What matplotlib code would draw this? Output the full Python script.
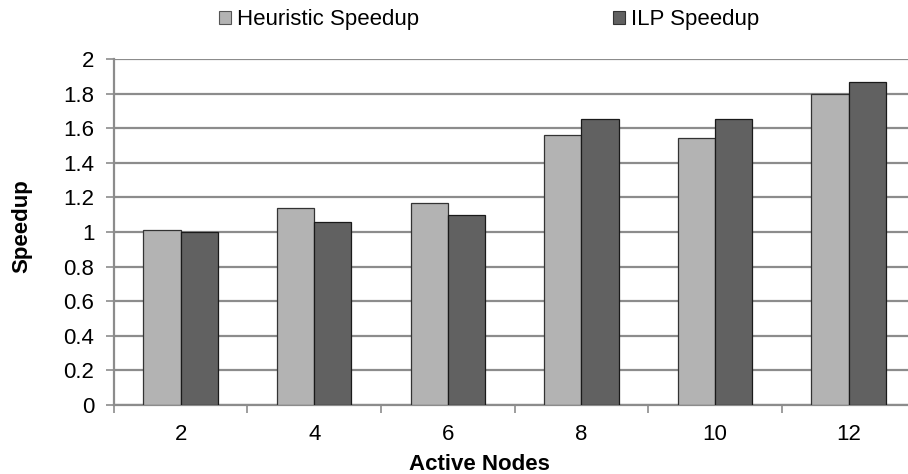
import matplotlib
matplotlib.use("Agg")
import matplotlib.pyplot as plt
from matplotlib.patches import Patch
import numpy as np

plt.rcParams['font.family'] = ['Liberation Sans', 'DejaVu Sans']

categories = ["2", "4", "6", "8", "10", "12"]
heuristic_speedup = [1.01, 1.14, 1.17, 1.56, 1.545, 1.80]
ilp_speedup = [1.00, 1.06, 1.10, 1.655, 1.655, 1.865]
y_ticks = [0, 0.2, 0.4, 0.6, 0.8, 1, 1.2, 1.4, 1.6, 1.8, 2]
y_tick_labels = ["0", "0.2", "0.4", "0.6", "0.8", "1", "1.2", "1.4", "1.6", "1.8", "2"]

light = "#b3b3b3"
dark = "#616161"
grid_col = "#8c8c8c"
fs = 16

W, H = 908, 474
fig = plt.figure(figsize=(W / 100, H / 100), dpi=100)
ax = fig.add_axes([113.8 / W, 69 / H, 801.6 / W, 346 / H])

x = np.arange(len(categories))
w = 0.278
ax.bar(x - w / 2, heuristic_speedup, w, color=light, edgecolor="#333333", linewidth=0.9, zorder=3)
ax.bar(x + w / 2, ilp_speedup, w, color=dark, edgecolor="#1a1a1a", linewidth=0.9, zorder=3)

ax.set_xlim(-0.5, len(categories) - 0.5)
ax.set_ylim(0, 2)
ax.set_yticks(y_ticks)
ax.set_yticklabels(y_tick_labels)
ax.yaxis.grid(True, color=grid_col, linewidth=1.6, zorder=0)
ax.set_axisbelow(True)

# category labels at centers, tick marks at category boundaries
ax.set_xticks(x)
ax.set_xticklabels(categories)
ax.set_xticks(np.arange(len(categories) + 1) - 0.5, minor=True)
ax.tick_params(axis="x", which="major", length=0, pad=14, labelsize=fs)
ax.tick_params(axis="x", which="minor", length=6, width=1.2, color=grid_col, direction="out")
ax.tick_params(axis="y", length=6, width=1.2, color=grid_col, labelsize=fs, pad=8)

for s in ["top", "right"]:
    ax.spines[s].set_visible(False)
for s in ["left", "bottom"]:
    ax.spines[s].set_color(grid_col)
    ax.spines[s].set_linewidth(1.6)

fig.text(479 / W, 1 - 464 / H, "Active Nodes", fontsize=fs, fontweight="bold",
         ha="center", va="center")
fig.text(22 / W, 1 - 226 / H, "Speedup", fontsize=fs, fontweight="bold",
         ha="center", va="center", rotation=90)

handles = [Patch(facecolor=light, edgecolor="#555555", linewidth=0.8),
           Patch(facecolor=dark, edgecolor="#333333", linewidth=0.8)]
fig.legend(handles, ["Heuristic Speedup", "ILP Speedup"], loc="center",
           bbox_to_anchor=(489 / W, 1 - 20 / H), ncol=2, frameon=False,
           fontsize=fs, handlelength=0.54, handleheight=0.54, handletextpad=0.27,
           columnspacing=8.7)

fig.savefig("out.png", dpi=100)
